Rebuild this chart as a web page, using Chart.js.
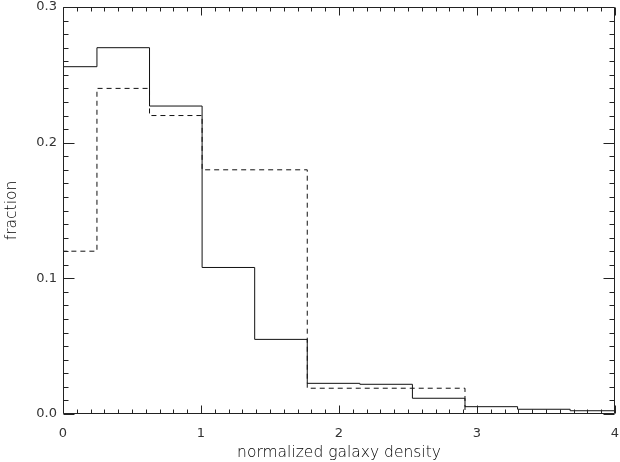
<!DOCTYPE html>
<html lang="en">
<head>
  <meta charset="UTF-8" />
  <title>fraction vs normalized galaxy density</title>
  <script src="https://cdn.jsdelivr.net/npm/chart.js"></script>
  <style>
    body {
      margin: 0;
      padding: 0;
      background: #fff;
    }
    canvas {
      display: block;
    }
  </style>
</head>
<body>
  <canvas id="histChart" width="620" height="462"></canvas>

  <script>
    // bin edges of the histogram (first bin starts left of 0, last ends right of 4)
    const binEdges = [-0.135, 0.246, 0.627, 1.008, 1.389, 1.770, 2.151, 2.532, 2.913, 3.294, 3.675, 4.056];
    // solid histogram
    const solidFraction = [0.256, 0.270, 0.227, 0.108, 0.055, 0.0226, 0.0219, 0.0116, 0.0054, 0.0035, 0.0024];
    // dashed histogram
    const dashedFraction = [0.120, 0.240, 0.220, 0.180, 0.180, 0.019, 0.019, 0.019, 0, 0, 0];
    // axis labels
    const xTickValues = [0, 1, 2, 3, 4];
    const yTickValues = [0.0, 0.1, 0.2, 0.3];

    // step points: one point per bin start plus the closing edge
    function stepPoints(values) {
      const pts = values.map((v, i) => ({ x: binEdges[i], y: v }));
      pts.push({ x: binEdges[binEdges.length - 1], y: values[values.length - 1] });
      return pts;
    }

    // keep the plot box where the layout padding puts it
    function fixBox(s, size) {
      if (s.isHorizontal()) s.height = size; else s.width = size;
      s.paddingLeft = s.paddingRight = s.paddingTop = s.paddingBottom = 0;
    }

    // IDL-style box with inward ticks on all four sides
    const boxTicks = {
      id: 'boxTicks',
      afterDatasetsDraw(chart) {
        const { ctx, chartArea: a, scales: { x, y } } = chart;
        const L = Math.round(a.left) + 0.5, R = Math.round(a.right) - 0.5;
        const T = Math.round(a.top) + 0.5, B = Math.round(a.bottom) - 0.5;
        ctx.save();
        ctx.strokeStyle = '#222';
        ctx.lineWidth = 1;
        ctx.beginPath();
        ctx.rect(L, T, R - L, B - T);
        // x ticks every 0.1, major every 1
        for (let i = 0; i <= 40; i++) {
          const px = Math.round(x.getPixelForValue(i / 10)) + 0.5;
          const len = i % 10 === 0 ? 8 : 4;
          ctx.moveTo(px, B); ctx.lineTo(px, B - len);
          ctx.moveTo(px, T); ctx.lineTo(px, T + len);
        }
        // y ticks every 0.01, major every 0.1
        for (let j = 0; j <= 30; j++) {
          const py = Math.round(y.getPixelForValue(j / 100)) + 0.5;
          const len = j % 10 === 0 ? 11 : 5;
          ctx.moveTo(L, py); ctx.lineTo(L + len, py);
          ctx.moveTo(R, py); ctx.lineTo(R - len, py);
        }
        ctx.stroke();
        ctx.restore();
      }
    };

    Chart.defaults.font.family = '"DejaVu Sans", sans-serif';
    Chart.defaults.font.size = 13;
    Chart.defaults.color = '#333';

    const titleFont = { size: 15.5, weight: 'lighter' };

    const ctx = document.getElementById('histChart').getContext('2d');
    new Chart(ctx, {
      type: 'line',
      data: {
        datasets: [
          {
            label: 'solid',
            data: stepPoints(solidFraction),
            stepped: 'before',
            borderColor: '#111',
            borderWidth: 1,
            pointRadius: 0,
            fill: false
          },
          {
            label: 'dashed',
            data: stepPoints(dashedFraction),
            stepped: 'before',
            borderColor: '#111',
            borderWidth: 1,
            borderDash: [5, 4],
            pointRadius: 0,
            fill: false
          }
        ]
      },
      options: {
        responsive: false,
        animation: false,
        layout: { padding: { top: 7, right: 5, left: 0, bottom: 0 } },
        plugins: {
          legend: { display: false },
          tooltip: { enabled: false }
        },
        scales: {
          x: {
            type: 'linear',
            min: 0,
            max: 4,
            grid: { display: false, drawTicks: false },
            border: { display: false },
            afterBuildTicks: s => { s.ticks = xTickValues.map(v => ({ value: v })); },
            ticks: {
              padding: 12,
              maxRotation: 0,
              callback: v => String(v)
            },
            title: {
              display: true,
              text: 'normalized galaxy density',
              color: '#000',
              font: titleFont,
              padding: { top: 0, bottom: 0 }
            },
            afterFit: s => fixBox(s, 48)
          },
          y: {
            min: 0,
            max: 0.3,
            grid: { display: false, drawTicks: false },
            border: { display: false },
            afterBuildTicks: s => { s.ticks = yTickValues.map(v => ({ value: v })); },
            ticks: {
              padding: 6,
              callback: v => Number(v).toFixed(1)
            },
            title: {
              display: true,
              text: 'fraction',
              color: '#000',
              font: titleFont,
              padding: { top: 3, bottom: 0 }
            },
            afterFit: s => fixBox(s, 63)
          }
        }
      },
      plugins: [boxTicks]
    });
  </script>
</body>
</html>
